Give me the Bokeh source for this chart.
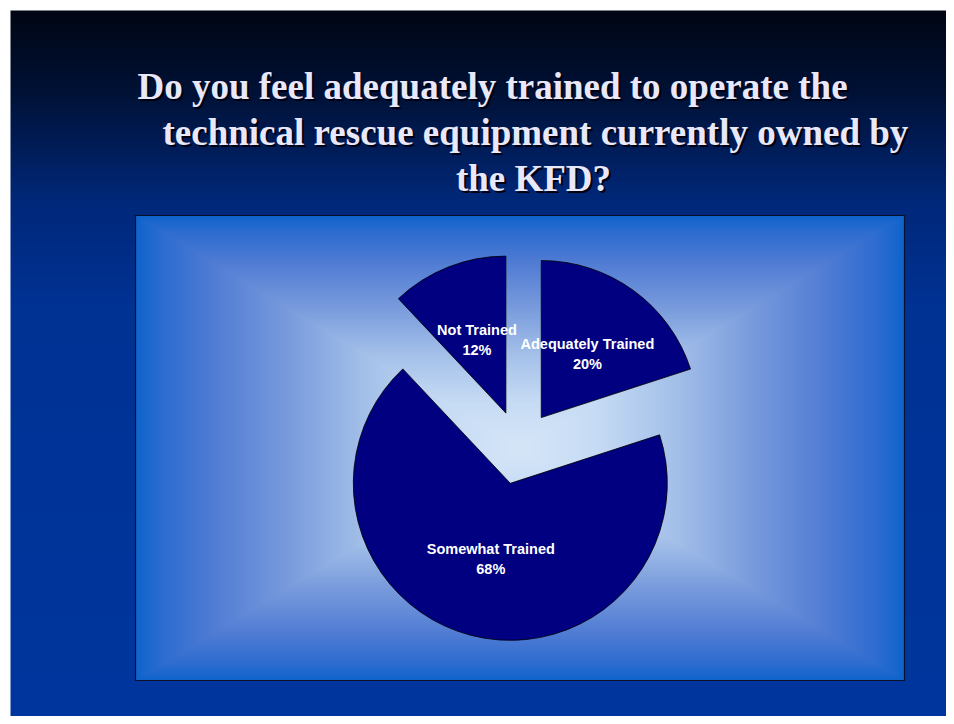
import numpy as np
from bokeh.plotting import figure
from bokeh.models import Range1d
from bokeh.core.properties import value
from bokeh.embed import file_html
from bokeh.resources import INLINE

# ---- data ----
categories = ["Adequately Trained", "Somewhat Trained", "Not Trained"]
percents = [20, 68, 12]
title_lines = ["Do you feel adequately trained to operate the",
               "technical rescue equipment currently owned by",
               "the KFD?"]

W, H = 946, 716
p = figure(width=W, height=H, output_backend="svg", toolbar_location=None,
           x_range=Range1d(0, W), y_range=Range1d(0, H), min_border=0,
           x_axis_location=None, y_axis_location=None)
p.grid.visible = False
p.outline_line_color = None
p.background_fill_color = "#ffffff"
p.border_fill_color = "#ffffff"

def to_y(sy):  # picture y -> data y
    return H - sy

def lerp_stops(t, stops):
    t = np.clip(t, 0, 1)
    pos = np.array([s[0] for s in stops])
    return [np.interp(t, pos, np.array([s[1][c] for s in stops])) for c in range(3)]

def rgba_img(r, g, b):
    h, w = r.shape
    img = np.empty((h, w), dtype=np.uint32)
    v = img.view(dtype=np.uint8).reshape((h, w, 4))
    v[:, :, 0] = r.astype(np.uint8)
    v[:, :, 1] = g.astype(np.uint8)
    v[:, :, 2] = b.astype(np.uint8)
    v[:, :, 3] = 255
    return img

# slide background: vertical gradient, starts 10px in from top/left
sx0, sy_top = 10, 10
sh = H - sy_top
rows = np.arange(sh)[:, None] * np.ones((1, 4))
frac = 1 - (rows + 0.5) / sh  # fraction from top (row 0 = bottom)
bg_stops = [(0.0, (1, 6, 20)), (0.12, (0, 18, 55)), (0.27, (0, 40, 122)),
            (0.42, (0, 50, 148)), (1.0, (0, 54, 158))]
r, g, b = lerp_stops(frac, bg_stops)
p.image_rgba(image=[rgba_img(r, g, b)], x=sx0, y=0, dw=W - sx0, dh=sh)

# chart box with rectangular "from center" gradient
bx0, bx1 = 135, 904
by0, by1 = to_y(680), to_y(215)
bw, bh = bx1 - bx0, by1 - by0
xx = (np.arange(bw) + 0.5 - bw / 2) / (bw / 2)
yy = (np.arange(bh) + 0.5 - bh / 2) / (bh / 2)
X, Y = np.meshgrid(xx, yy)
T = np.maximum(np.abs(X), np.abs(Y)) ** 1.0
box_stops = [(0.0, (214, 230, 248)), (0.2, (198, 219, 244)), (0.4, (165, 193, 234)),
             (0.6, (122, 156, 221)), (0.8, (80, 124, 212)), (0.93, (45, 108, 208)),
             (1.0, (14, 100, 204))]
r, g, b = lerp_stops(T, box_stops)
p.image_rgba(image=[rgba_img(r, g, b)], x=bx0, y=by0, dw=bw, dh=bh)
p.quad(left=[bx0], right=[bx1], bottom=[by0], top=[by1], fill_color=None,
       line_color="#0a0f2a", line_width=1.2)

# exploded pie
cx, cy = 519, to_y(447)
radius = 157
explode = 37
vals = np.array(percents, dtype=float)
cum = np.concatenate([[0], np.cumsum(vals) / vals.sum()])
a_from = np.pi / 2 - 2 * np.pi * cum[:-1]
a_to = np.pi / 2 - 2 * np.pi * cum[1:]
mid = (a_from + a_to) / 2
wx = cx + explode * np.cos(mid)
wy = cy + explode * np.sin(mid)
p.wedge(x=wx, y=wy, radius=radius, radius_units="screen",
        start_angle=a_to, end_angle=a_from,
        fill_color="#000080", line_color="#000000", line_width=0.8)

lx = wx + radius * 0.5 * np.cos(mid)
ly = wy + radius * 0.5 * np.sin(mid)
pct_labels = [f"{v}%" for v in percents]
p.text(x=lx, y=ly, text=categories, text_font=value("Liberation Sans"),
       text_font_style="bold", text_font_size="14.5px", text_color="#ffffff",
       text_align="center", text_baseline="middle", y_offset=-10)
p.text(x=lx, y=ly, text=pct_labels, text_font=value("Liberation Sans"),
       text_font_style="bold", text_font_size="14.5px", text_color="#ffffff",
       text_align="center", text_baseline="middle", y_offset=10)

# title with shadow
tx = [137, 162, 533]
ty = [to_y(86), to_y(132), to_y(178)]
ta = ["left", "left", "center"]
for i, line in enumerate(title_lines):
    for dx, dy, col in [(2, 2, "#000010"), (0, 0, "#e8e8fa")]:
        p.text(x=[tx[i]], y=[ty[i]], text=[line], text_font=value("Liberation Serif"),
               text_font_style="bold", text_font_size="37px", text_color=col,
               text_align=ta[i], text_baseline="alphabetic",
               x_offset=dx, y_offset=dy)

open("out.html", "w").write(file_html(p, INLINE))
